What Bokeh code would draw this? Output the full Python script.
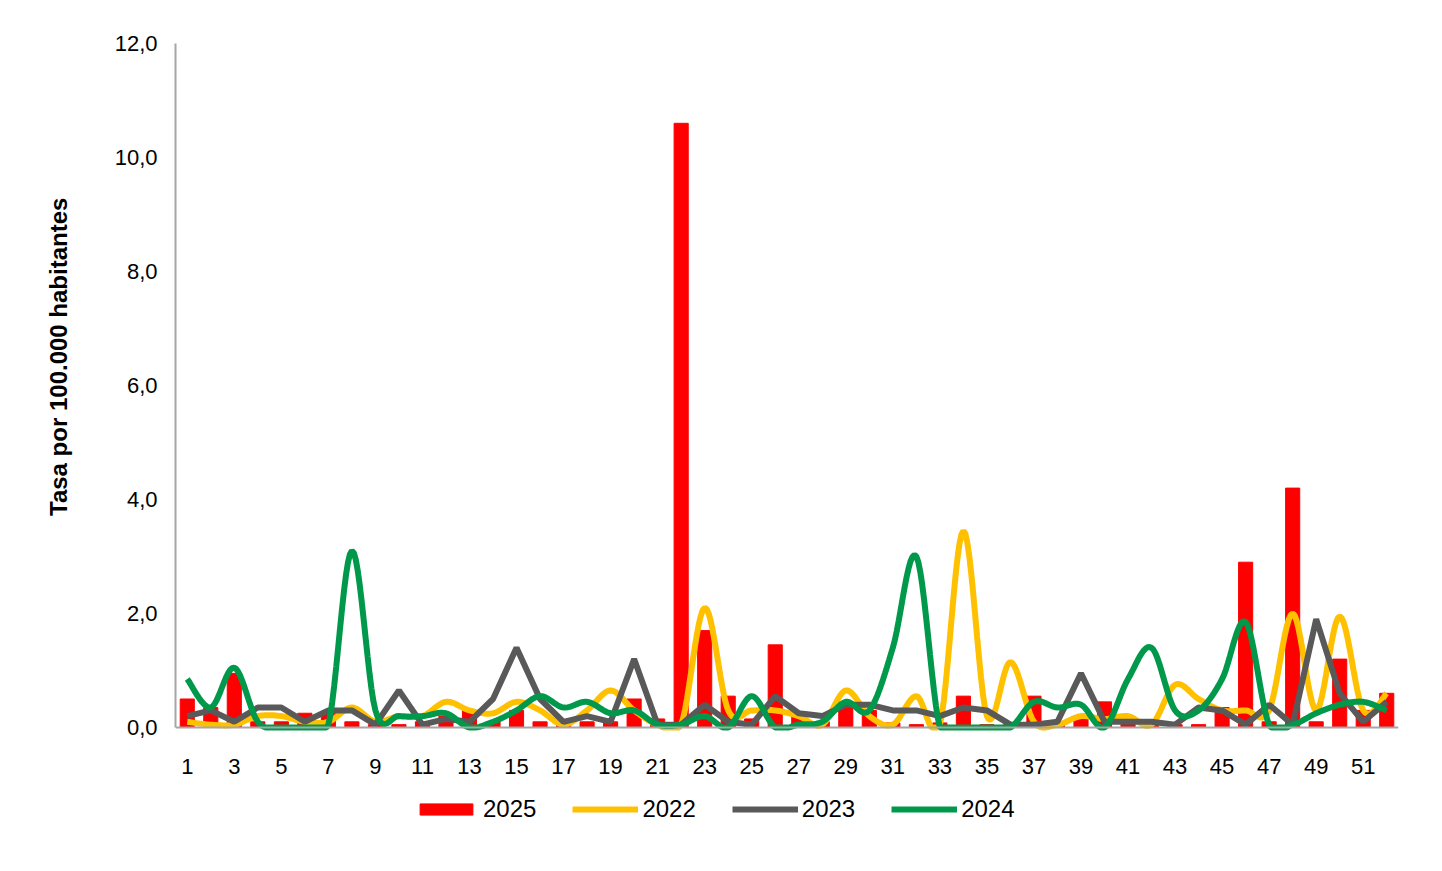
import numpy as np
from bokeh.plotting import figure
from bokeh.models import FixedTicker, CustomJSTickFormatter, Legend, LegendItem, Range1d
from bokeh.embed import file_html
from bokeh.resources import INLINE

weeks = list(range(1, 53))
tasa_2025 = [0.5, 0.35, 0.95, 0.1, 0.1, 0.25, 0.25, 0.1, 0.05, 0.05, 0.1, 0.2, 0.3, 0.1, 0.3, 0.1, 0.05, 0.1,
             0.1, 0.5, 0.15, 10.6, 1.7, 0.55, 0.15, 1.45, 0.25, 0.1, 0.35, 0.3, 0.08, 0.05, 0.08, 0.55, 0.05,
             0.05, 0.55, 0.1, 0.15, 0.45, 0.1, 0.05, 0.05, 0.05, 0.35, 2.9, 0.1, 4.2, 0.1, 1.2, 0.3, 0.6]
tasa_2022 = [0.1, 0.05, 0.05, 0.2, 0.2, 0.1, 0.1, 0.35, 0.1, 0.2, 0.2, 0.45, 0.3, 0.25, 0.45, 0.3, 0.05, 0.3,
             0.65, 0.3, 0.05, 0.05, 2.1, 0.3, 0.3, 0.3, 0.2, 0.05, 0.65, 0.2, 0.05, 0.55, 0.05, 3.45, 0.2,
             1.15, 0.1, 0.05, 0.2, 0.15, 0.2, 0.05, 0.75, 0.5, 0.3, 0.3, 0.3, 2.0, 0.3, 1.95, 0.3, 0.6]
tasa_2023 = [0.2, 0.3, 0.1, 0.35, 0.35, 0.1, 0.3, 0.3, 0.05, 0.65, 0.05, 0.15, 0.1, 0.5, 1.4, 0.5, 0.1, 0.2,
             0.1, 1.2, 0.05, 0.05, 0.4, 0.1, 0.05, 0.55, 0.25, 0.2, 0.4, 0.4, 0.3, 0.3, 0.2, 0.35, 0.3,
             0.05, 0.05, 0.1, 0.95, 0.1, 0.1, 0.1, 0.05, 0.35, 0.3, 0.05, 0.4, 0.05, 1.9, 0.6, 0.1, 0.45]
tasa_2024 = [0.85, 0.35, 1.05, 0.1, 0.0, 0.0, 0.05, 3.1, 0.3, 0.2, 0.2, 0.25, 0.0, 0.1, 0.3, 0.55, 0.35, 0.45,
             0.25, 0.3, 0.05, 0.05, 0.2, 0.0, 0.55, 0.0, 0.05, 0.1, 0.45, 0.3, 1.4, 3.0, 0.0, 0.0, 0.0,
             0.0, 0.45, 0.35, 0.4, 0.0, 0.85, 1.4, 0.3, 0.3, 0.85, 1.85, 0.05, 0.05, 0.25, 0.4, 0.45, 0.3]
x_ticks = list(range(1, 53, 2))
y_ticks = [0, 2, 4, 6, 8, 10, 12]


def smooth(xs, ys, n=12):
    # Catmull-Rom spline, like Excel's smoothed lines; clipped at the x axis
    xs = np.asarray(xs, float); ys = np.asarray(ys, float)
    px = np.concatenate([[xs[0]], xs, [xs[-1]]])
    py = np.concatenate([[ys[0]], ys, [ys[-1]]])
    ox, oy = [], []
    for i in range(1, len(px) - 2):
        t = np.linspace(0, 1, n, endpoint=False)
        for arr, out in ((px, ox), (py, oy)):
            p0, p1, p2, p3 = arr[i - 1], arr[i], arr[i + 1], arr[i + 2]
            out.extend(0.5 * (2 * p1 + (-p0 + p2) * t + (2 * p0 - 5 * p1 + 4 * p2 - p3) * t ** 2
                              + (-p0 + 3 * p1 - 3 * p2 + p3) * t ** 3))
    ox.append(xs[-1]); oy.append(ys[-1])
    return ox, list(np.maximum(oy, 0))


FONT = "Liberation Sans"
# frame extends below zero so the legend has room under the x axis
p = figure(frame_width=1223, frame_height=820, output_backend="svg", toolbar_location=None,
           x_range=Range1d(0.5, 52.5), y_range=Range1d(-2.386, 12),
           min_border_left=175, min_border_top=43, min_border_right=36, min_border_bottom=0)
p.outline_line_color = None
p.grid.visible = False

r25 = p.vbar(x=weeks, top=tasa_2025, width=0.6, color="#ff0000")
x22, y22 = smooth(weeks, tasa_2022)
r22 = p.line(x22, y22, line_width=6, color="#ffc000")
r23 = p.line(weeks, tasa_2023, line_width=6, color="#595959")
x24, y24 = smooth(weeks, tasa_2024)
r24 = p.line(x24, y24, line_width=6, color="#00994c")

p.xaxis.fixed_location = 0
p.yaxis.bounds = (0, 12)
p.xaxis.ticker = FixedTicker(ticks=x_ticks)
p.yaxis.ticker = FixedTicker(ticks=y_ticks)
p.yaxis.formatter = CustomJSTickFormatter(code="return tick.toFixed(1).replace('.', ',');")
for ax in (p.xaxis, p.yaxis):
    ax.axis_line_color = "#a6a6a6"
    ax.axis_line_width = 2
    ax.major_tick_line_color = None
    ax.minor_tick_line_color = None
    ax.major_label_text_font = FONT
    ax.major_label_text_font_size = "22px"
    ax.major_label_text_color = "black"
p.xaxis.major_label_standoff = 26
p.yaxis.major_label_standoff = 12
# leading no-break spaces push the label up to the middle of the 0-12 span
p.yaxis.axis_label = "\u00a0" * 29 + "Tasa por 100.000 habitantes"
p.yaxis.axis_label_text_font = FONT
p.yaxis.axis_label_text_font_size = "24px"
p.yaxis.axis_label_text_font_style = "bold"
p.yaxis.axis_label_text_color = "black"
p.yaxis.axis_label_standoff = 40

legend = Legend(items=[LegendItem(label="2025", renderers=[r25]),
                       LegendItem(label="2022", renderers=[r22]),
                       LegendItem(label="2023", renderers=[r23]),
                       LegendItem(label="2024", renderers=[r24])],
                orientation="horizontal", location=(238, 40),
                label_text_font=FONT, label_text_font_size="24px", label_text_color="black",
                glyph_width=66, glyph_height=14, spacing=36, label_standoff=4,
                background_fill_alpha=0, border_line_color=None, margin=0, padding=2)
p.add_layout(legend, "center")

open("out.html", "w").write(file_html(p, INLINE))
